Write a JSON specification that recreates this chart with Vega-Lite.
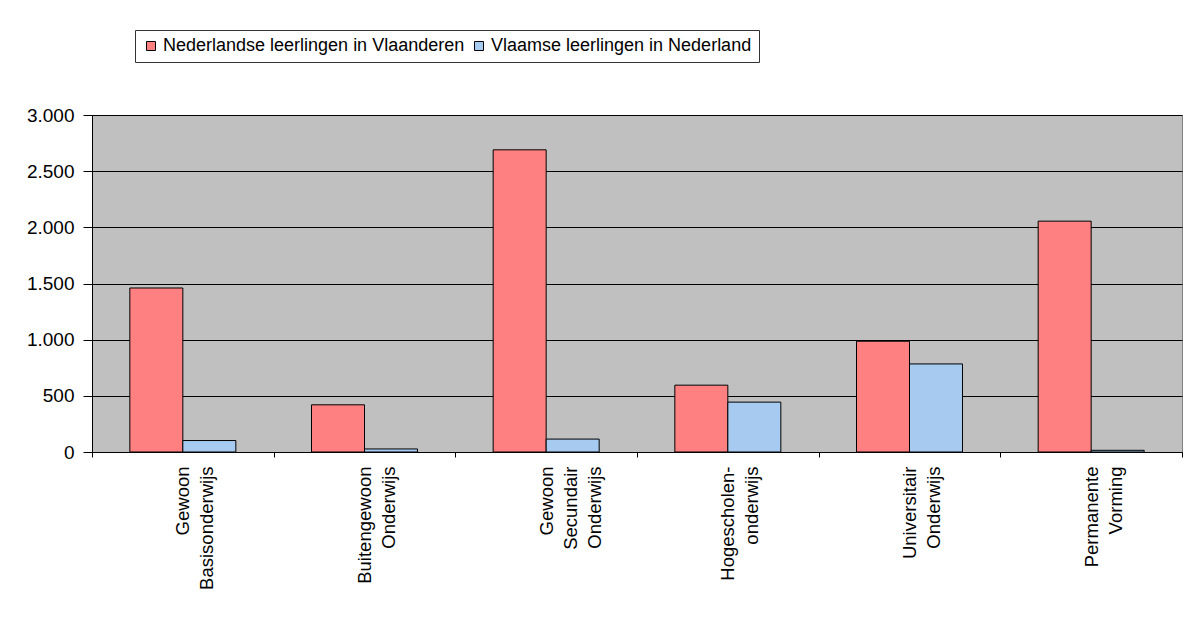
{
  "$schema": "https://vega.github.io/schema/vega-lite/v6.json",
  "autosize": "none",
  "width": 1090,
  "height": 337,
  "padding": {"left": 92, "top": 115, "right": 14, "bottom": 167},
  "background": "white",
  "data": {
    "values": [
      {"categorie": "Gewoon Basisonderwijs", "serie": "Nederlandse leerlingen in Vlaanderen", "aantal": 1460},
      {"categorie": "Gewoon Basisonderwijs", "serie": "Vlaamse leerlingen in Nederland", "aantal": 102},
      {"categorie": "Buitengewoon Onderwijs", "serie": "Nederlandse leerlingen in Vlaanderen", "aantal": 420},
      {"categorie": "Buitengewoon Onderwijs", "serie": "Vlaamse leerlingen in Nederland", "aantal": 27},
      {"categorie": "Gewoon Secundair Onderwijs", "serie": "Nederlandse leerlingen in Vlaanderen", "aantal": 2690},
      {"categorie": "Gewoon Secundair Onderwijs", "serie": "Vlaamse leerlingen in Nederland", "aantal": 115},
      {"categorie": "Hogescholen- onderwijs", "serie": "Nederlandse leerlingen in Vlaanderen", "aantal": 595},
      {"categorie": "Hogescholen- onderwijs", "serie": "Vlaamse leerlingen in Nederland", "aantal": 444},
      {"categorie": "Universitair Onderwijs", "serie": "Nederlandse leerlingen in Vlaanderen", "aantal": 986},
      {"categorie": "Universitair Onderwijs", "serie": "Vlaamse leerlingen in Nederland", "aantal": 784},
      {"categorie": "Permanente Vorming", "serie": "Nederlandse leerlingen in Vlaanderen", "aantal": 2055},
      {"categorie": "Permanente Vorming", "serie": "Vlaamse leerlingen in Nederland", "aantal": 15}
    ]
  },
  "mark": {"type": "bar", "stroke": "black", "strokeWidth": 1},
  "encoding": {
    "x": {
      "field": "categorie",
      "type": "nominal",
      "sort": null,
      "scale": {"paddingInner": 0, "paddingOuter": 0},
      "axis": {
        "title": null,
        "labelAngle": -90,
        "labelExpr": "split(datum.label, ' ')",
        "labelLineHeight": 24,
        "labelFont": "Liberation Sans",
        "labelFontSize": 18.5,
        "labelColor": "black",
        "labelPadding": 9,
        "tickBand": "extent",
        "tickSize": 5,
        "tickColor": "black",
        "domainColor": "black",
        "labelLimit": 0
      }
    },
    "xOffset": {
      "field": "serie",
      "type": "nominal",
      "sort": ["Nederlandse leerlingen in Vlaanderen", "Vlaamse leerlingen in Nederland"],
      "scale": {"paddingInner": 0, "paddingOuter": 0.714}
    },
    "y": {
      "field": "aantal",
      "type": "quantitative",
      "scale": {"domain": [0, 3000], "nice": false},
      "axis": {
        "title": null,
        "values": [0, 500, 1000, 1500, 2000, 2500, 3000],
        "labelExpr": "replace(format(datum.value, ','), ',', '.')",
        "labelFont": "Liberation Sans",
        "labelFontSize": 19,
        "labelColor": "black",
        "labelPadding": 9,
        "tickSize": 9,
        "tickColor": "black",
        "domainColor": "black",
        "grid": true,
        "gridColor": "black",
        "gridOpacity": 1,
        "gridWidth": 1
      }
    },
    "color": {
      "field": "serie",
      "type": "nominal",
      "scale": {
        "domain": ["Nederlandse leerlingen in Vlaanderen", "Vlaamse leerlingen in Nederland"],
        "range": ["#FF8080", "#A6CAF0"]
      },
      "legend": {
        "title": null,
        "orient": "none",
        "legendX": 43,
        "legendY": -85,
        "direction": "horizontal",
        "strokeColor": "#333333",
        "fillColor": "white",
        "padding": 7,
        "symbolType": "square",
        "symbolSize": 81,
        "symbolStrokeColor": "black",
        "symbolStrokeWidth": 1,
        "labelFont": "Liberation Sans",
        "labelFontSize": 18,
        "labelColor": "black",
        "labelOffset": 3,
        "columnPadding": 5,
        "labelLimit": 0
      }
    }
  },
  "config": {
    "view": {"fill": "#C0C0C0", "stroke": "#808080", "strokeWidth": 1},
    "axis": {"gridDash": []}
  }
}
